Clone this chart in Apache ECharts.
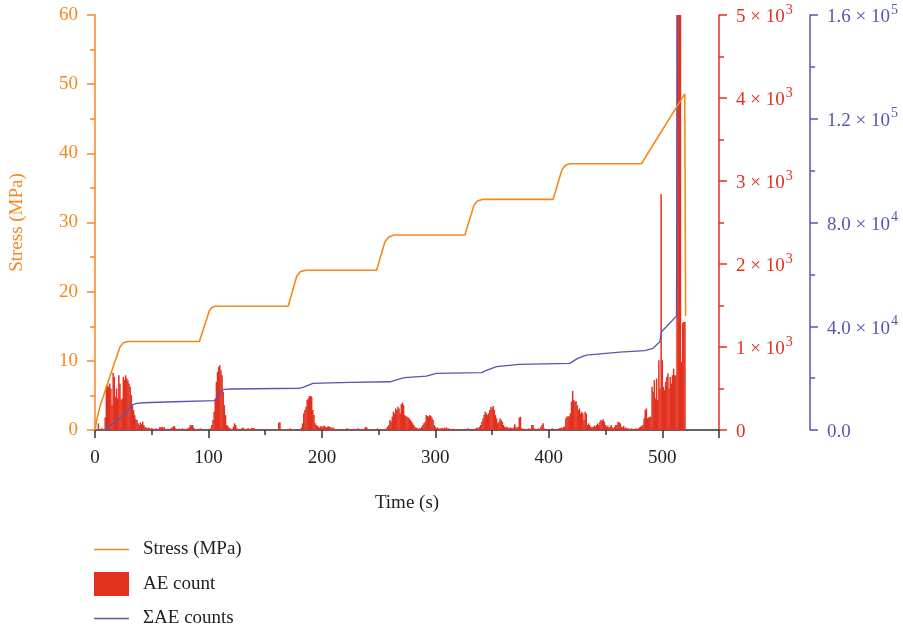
<!DOCTYPE html>
<html>
<head>
<meta charset="utf-8">
<script src="https://cdn.jsdelivr.net/npm/echarts@6/dist/echarts.min.js"></script>
<style>html,body{margin:0;padding:0;background:#fff}#c{width:903px;height:630px}</style>
</head>
<body>
<div id="c"></div>
<script>
// ---- DATA ----
// Stress (MPa) vs time (s)
const stressTime = [0,1.5,4.4,12,22,25,29,92,100.7,103,106,170.3,177.7,181,186,248.2,255.5,259,263.4,326,334,337,342,403.8,411.7,415,418.5,481.6,519.8,520.6];
const stressVal  = [0,1.5,3.4,7.2,12.0,12.6,12.8,12.8,17.2,17.7,17.9,17.9,22.2,22.9,23.1,23.1,27.2,27.9,28.2,28.2,32.5,33.1,33.35,33.35,37.7,38.3,38.5,38.5,48.6,16.5];

// Cumulative AE counts vs time (s)
const cumTime = [8.8,16,22,28,32.3,36.7,42.6,70,105.7,108,113,120,180.6,184,192,225,260,268,273,292,301,340.7,345,354,374,418.5,425,433,462.6,484.6,491.9,497.8,499.3,505,512.5,513.5];
const cumVal  = [0,2600,4500,7000,9600,10300,10500,10900,11300,12500,15700,15800,16100,16500,18000,18400,18600,19600,20200,20800,21800,22100,23000,24400,25300,25700,27500,28900,30000,30600,31500,34000,37900,40500,43900,160000];

// AE count per 1 s bin, starting at t = 0 s
const aeStart = 0;
const aeCounts = [
  0,0,0,80,0,0,20,0,10,150,
  530,540,520,560,500,300,690,640,400,500,
  380,660,560,360,380,640,600,660,620,600,
  560,520,420,300,240,180,130,120,80,60,
  90,70,100,60,40,30,20,30,20,10,
  25,15,0,10,20,0,10,35,30,40,
  20,35,10,0,15,0,10,20,30,40,
  50,20,10,0,15,0,10,20,0,10,
  15,0,20,30,60,55,60,30,10,0,
  10,0,15,20,10,0,10,0,0,5,
  0,10,20,60,120,220,380,580,700,760,
  780,720,660,460,300,180,60,50,30,20,
  10,0,40,80,60,20,0,10,0,15,
  30,20,0,10,0,20,10,0,25,20,
  25,10,0,10,0,0,5,0,10,0,
  0,5,0,0,10,0,0,5,0,0,
  0,10,90,90,0,0,0,10,0,0,
  0,10,20,10,0,0,5,0,0,10,
  0,10,30,80,200,240,280,360,380,410,
  410,400,240,180,80,60,50,40,30,45,
  40,45,50,40,30,40,45,35,30,20,
  30,15,10,0,10,0,5,10,0,0,
  10,0,20,15,0,10,0,5,15,0,
  0,10,20,10,0,0,5,10,30,40,
  20,0,10,0,5,0,10,0,5,20,
  10,0,0,5,0,0,10,20,40,60,
  120,100,160,220,200,260,240,280,260,200,
  310,330,300,180,170,160,150,140,120,100,
  80,60,40,30,20,15,20,20,40,60,
  80,100,180,170,160,180,170,150,120,60,
  40,20,30,20,10,20,25,15,30,20,
  30,10,20,10,0,10,15,0,5,10,
  0,5,10,0,5,0,10,0,10,20,
  10,0,5,10,5,10,20,30,20,40,
  60,100,140,180,220,200,180,200,240,280,
  260,290,240,180,140,80,100,140,120,100,
  60,40,30,40,30,20,30,25,20,30,
  70,40,20,40,150,160,20,10,15,0,
  10,5,20,10,15,60,60,20,10,5,
  10,20,5,40,60,80,20,10,0,5,
  10,0,5,20,10,5,10,0,10,20,
  20,30,20,40,40,140,160,170,160,200,
  340,470,360,340,350,300,240,260,200,220,
  200,120,220,200,60,80,60,40,30,40,
  50,40,60,80,60,100,120,110,130,100,
  60,40,50,30,40,60,30,20,40,60,
  60,100,90,80,40,30,50,20,30,15,
  20,15,10,20,10,5,10,20,15,20,
  30,40,50,60,140,240,260,140,150,160,
  160,520,460,600,380,620,360,840,500,2840,
  840,520,480,580,640,680,500,640,560,660,
  740,660,660,5000,5000,5000,5000,820,1290,1300,
  1300
];

const xTicks = [0,100,200,300,400,500];
const stressTicks = [0,10,20,30,40,50,60];
const aeTicks = [0,1000,2000,3000,4000,5000];
const cumTicks = [0,40000,80000,120000,160000];

// ---- CHART ----
const FONT = "'Liberation Serif','DejaVu Serif',serif";
const ORANGE = '#f5891f', RED = '#e2301f', BLUE = '#5656b4', AXIS = '#333333';

const chart = echarts.init(document.getElementById('c'), null, {renderer: 'canvas'});
const richFor = (color) => ({
  b: {fontFamily: FONT, fontSize: 19, color: color, lineHeight: 24, verticalAlign: 'bottom'},
  s: {fontFamily: FONT, fontSize: 14, color: color, verticalAlign: 'top', padding: [0,0,0,1]}
});
const LINE_ICON = 'path://M0,0 L35,0 L35,1.4 L0,1.4 Z';

chart.setOption({
  animation: false,
  backgroundColor: '#fff',
  grid: {left: 95, right: 184, top: 15, bottom: 200, containLabel: false, outerBoundsMode: 'none'},
  legend: {
    orient: 'vertical', left: 94, top: 540, height: 120, padding: 0,
    itemWidth: 35, itemHeight: 24, itemGap: 13,
    textStyle: {fontFamily: FONT, fontSize: 19, color: '#222', padding: [0,0,0,9]},
    data: [
      {name: 'Stress (MPa)', icon: LINE_ICON},
      {name: 'AE count', icon: 'rect'},
      {name: '\u03A3AE counts', icon: LINE_ICON}
    ]
  },
  xAxis: {
    type: 'value', min: 0, max: 550, interval: 100,
    name: 'Time (s)', nameLocation: 'middle', nameGap: 64,
    nameTextStyle: {fontFamily: FONT, fontSize: 19, color: '#222'},
    axisLine: {lineStyle: {color: AXIS, width: 1.5}},
    axisTick: {length: 8, lineStyle: {color: AXIS, width: 1.5}},
    minorTick: {show: true, splitNumber: 2, length: 5, lineStyle: {color: AXIS, width: 1.5}},
    splitLine: {show: false},
    axisLabel: {fontFamily: FONT, fontSize: 19, color: '#222', margin: 19,
      formatter: v => xTicks.includes(v) ? String(v) : ''}
  },
  yAxis: [
    {
      type: 'value', min: 0, max: 60, interval: 10, position: 'left',
      name: 'Stress (MPa)', nameLocation: 'middle', nameGap: 68, nameRotate: 90,
      nameTextStyle: {fontFamily: FONT, fontSize: 19, color: ORANGE},
      axisLine: {show: true, lineStyle: {color: ORANGE, width: 1.5}},
      axisTick: {show: true, length: 8, lineStyle: {color: ORANGE, width: 1.5}},
      minorTick: {show: true, splitNumber: 2, length: 5, lineStyle: {color: ORANGE, width: 1.5}},
      splitLine: {show: false},
      axisLabel: {fontFamily: FONT, fontSize: 19, color: ORANGE, margin: 17,
        formatter: v => stressTicks.includes(v) ? String(v) : ''}
    },
    {
      type: 'value', min: 0, max: 5000, interval: 1000, position: 'right', offset: 0,
      axisLine: {show: true, lineStyle: {color: RED, width: 1.5}},
      axisTick: {show: true, length: 8, lineStyle: {color: RED, width: 1.5}},
      minorTick: {show: true, splitNumber: 2, length: 5, lineStyle: {color: RED, width: 1.5}},
      splitLine: {show: false},
      axisLabel: {margin: 17, rich: richFor(RED),
        formatter: v => {
          if (!aeTicks.includes(v)) return '';
          if (v === 0) return '{b|0}';
          return '{b|' + (v / 1000) + ' \u00D7 10}{s|3}';
        }}
    },
    {
      type: 'value', min: 0, max: 160000, interval: 40000, position: 'right', offset: 91,
      axisLine: {show: true, lineStyle: {color: BLUE, width: 1.5}},
      axisTick: {show: true, length: 8, lineStyle: {color: BLUE, width: 1.5}},
      minorTick: {show: true, splitNumber: 2, length: 5, lineStyle: {color: BLUE, width: 1.5}},
      splitLine: {show: false},
      axisLabel: {margin: 17, rich: richFor(BLUE),
        formatter: v => {
          if (!cumTicks.includes(v)) return '';
          if (v === 0) return '{b|0.0}';
          const e = v >= 100000 ? 5 : 4;
          return '{b|' + (v / Math.pow(10, e)).toFixed(1) + ' \u00D7 10}{s|' + e + '}';
        }}
    }
  ],
  series: [
    {
      name: 'AE count', type: 'bar', yAxisIndex: 1, barWidth: 1.5, z: 1,
      itemStyle: {color: RED}, clip: true,
      data: aeCounts.map((v, i) => [aeStart + i, v])
    },
    {
      name: 'Stress (MPa)', type: 'line', yAxisIndex: 0, symbol: 'none', z: 3,
      lineStyle: {color: ORANGE, width: 1.6}, itemStyle: {color: ORANGE},
      data: stressTime.map((t, i) => [t, stressVal[i]])
    },
    {
      name: '\u03A3AE counts', type: 'line', yAxisIndex: 2, symbol: 'none', z: 2,
      lineStyle: {color: BLUE, width: 1.3}, itemStyle: {color: BLUE},
      data: cumTime.map((t, i) => [t, cumVal[i]])
    }
  ]
});
</script>
</body>
</html>
